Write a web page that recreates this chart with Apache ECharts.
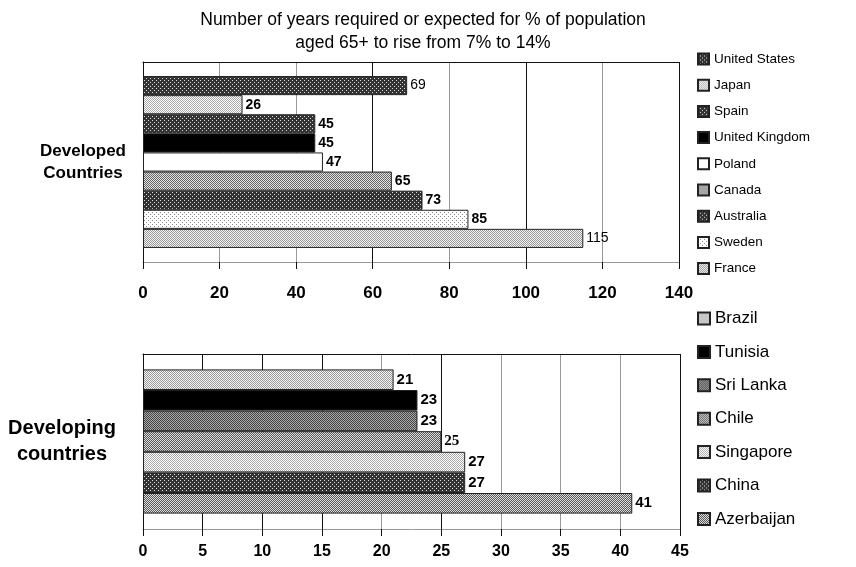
<!DOCTYPE html>
<html><head><meta charset="utf-8">
<script src="https://cdn.jsdelivr.net/npm/echarts@6/dist/echarts.min.js"></script>
<style>html,body{margin:0;padding:0;background:#fff}#c{width:856px;height:567px}</style>
</head><body><div id="c"></div>
<script>
// ---- data ----
const titleLines = ['Number of years required or expected for % of population', 'aged 65+ to rise from 7% to 14%'];
const groupTop = ['Developed\nCountries'];
const groupBottom = ['Developing\ncountries'];
const devCountries = ['United States','Japan','Spain','United Kingdom','Poland','Canada','Australia','Sweden','France'];
const devYears = [69,26,45,45,47,65,73,85,115];
const dvgCountries = ['Brazil','Tunisia','Sri Lanka','Chile','Singapore','China','Azerbaijan'];
const dvgYears = [21,23,23,25,27,27,41];

// ---- patterns ----
function tile(size, bg, fg, pts){
  const c=document.createElement('canvas'); c.width=size; c.height=size;
  const g=c.getContext('2d'); g.fillStyle=bg; g.fillRect(0,0,size,size);
  g.fillStyle=fg; pts.forEach(p=>g.fillRect(p[0],p[1],1,1));
  return {image:c, repeat:'repeat'};
}
const P = {
  dark: ()=>tile(4,'#333','#ddd',[[0,0],[2,2]]),
  medium: ()=>tile(2,'#e4e4e4','#666',[[0,0],[1,1]]),
  mediumDark: ()=>tile(2,'#aaa','#444',[[0,0],[1,1]]),
  light: ()=>tile(2,'#fff','#aaa',[[0,0],[1,1]]),
  lighter: ()=>tile(2,'#f4f4f4','#999',[[0,0],[1,1]]),
  sparse: ()=>tile(4,'#fff','#888',[[0,0],[2,2]]),
  diag: ()=>tile(4,'#e0e0e0','#555',[[3,0],[2,1],[1,2],[0,3],[1,0],[0,1],[3,2],[2,3]]),
  black: ()=>'#000',
  white: ()=>'#fff'
};
const devStyle = ['dark','light','dark','black','white','medium','dark','sparse','lighter'];
const dvgStyle = ['lighter','black','mediumDark','diag','light','dark','diag'];
const devLabelWeight = ['normal','bold','bold','bold','bold','bold','bold','bold','normal'];

const axisFont = {fontFamily:'Liberation Sans, Arial', fontWeight:'bold', fontSize:17, color:'#000'};
const DK='#111', GR='#999';

const series=[];
devCountries.forEach((n,i)=>{
  series.push({type:'bar', name:n, xAxisIndex:0, yAxisIndex:0, data:[devYears[i]],
    barWidth:19.1, barGap:'0%',
    itemStyle:{color:P[devStyle[i]](), borderColor:'#222', borderWidth:1},
    label:{show:true, position:'right', distance:3, color:'#000', fontSize:14,
      fontWeight:devLabelWeight[i], fontFamily:'Liberation Sans, Arial'}
  });
});
dvgCountries.forEach((n,i)=>{
  series.push({type:'bar', name:n, xAxisIndex:2, yAxisIndex:1, data:[dvgYears[i]],
    barWidth:20.6, barGap:'0%',
    itemStyle:{color:P[dvgStyle[i]](), borderColor:'#222', borderWidth:1},
    label:{show:true, position:'right', distance:3, color:'#000', fontSize:15,
      fontWeight:'bold', fontFamily: n==='Chile' ? 'Liberation Serif, Times' : 'Liberation Sans, Arial'}
  });
});

const chart = echarts.init(document.getElementById('c'), null, {renderer:'canvas'});
chart.setOption({
  animation:false,
  backgroundColor:'#fff',
  title:{text:titleLines.join('\n'), left:418, top:4, textAlign:'center',
    textStyle:{fontFamily:'Liberation Sans, Arial', fontWeight:'normal', fontSize:17.5, lineHeight:23, color:'#000'}},
  grid:[
    {left:143, right:177, top:62, height:200},
    {left:143, right:176, top:354, height:175}
  ],
  xAxis:[
    {gridIndex:0, type:'value', min:0, max:140, interval:20, position:'bottom',
      axisLine:{show:true, lineStyle:{color:GR, width:1}},
      axisTick:{show:true, length:7, lineStyle:{color:DK}},
      axisLabel:Object.assign({margin:23}, axisFont),
      splitLine:{show:true, lineStyle:{color:[DK,GR,GR,DK,GR,DK,GR,DK], width:1}}},
    {gridIndex:0, type:'value', min:0, max:140, position:'top',
      axisLine:{show:true, lineStyle:{color:DK}}, axisTick:{show:false}, axisLabel:{show:false}, splitLine:{show:false}},
    {gridIndex:1, type:'value', min:0, max:45, interval:5, position:'bottom',
      axisLine:{show:true, lineStyle:{color:GR, width:1}},
      axisTick:{show:true, length:7, lineStyle:{color:DK}},
      axisLabel:Object.assign({margin:15}, axisFont, {fontSize:16}),
      splitLine:{show:true, lineStyle:{color:[DK,DK,DK,DK,GR,DK,GR,GR,GR,DK], width:1}}},
    {gridIndex:1, type:'value', min:0, max:45, position:'top',
      axisLine:{show:true, lineStyle:{color:DK}}, axisTick:{show:false}, axisLabel:{show:false}, splitLine:{show:false}}
  ],
  yAxis:[
    {gridIndex:0, type:'category', data:groupTop, inverse:true,
      axisLine:{show:true, lineStyle:{color:DK}}, axisTick:{show:false},
      axisLabel:{margin:60, align:'center', fontFamily:'Liberation Sans, Arial', fontWeight:'bold', fontSize:17, lineHeight:22, color:'#000'}},
    {gridIndex:1, type:'category', data:groupBottom, inverse:true,
      axisLine:{show:true, lineStyle:{color:DK}}, axisTick:{show:false},
      axisLabel:{margin:81, align:'center', fontFamily:'Liberation Sans, Arial', fontWeight:'bold', fontSize:20, lineHeight:26, color:'#000'}}
  ],
  legend:[
    {data:devCountries, orient:'vertical', left:697, top:52, padding:0, height:240, itemWidth:11, itemHeight:11, itemGap:12.2,
      icon:'rect', textStyle:{fontFamily:'Liberation Sans, Arial', fontSize:13.5, color:'#000'}, selectedMode:false},
    {data:dvgCountries, orient:'vertical', left:697, top:310, padding:0, height:250, itemWidth:12, itemHeight:12, itemGap:16.4,
      icon:'rect', textStyle:{fontFamily:'Liberation Sans, Arial', fontSize:17, color:'#000'}, selectedMode:false}
  ],
  series:series
});
</script></body></html>
